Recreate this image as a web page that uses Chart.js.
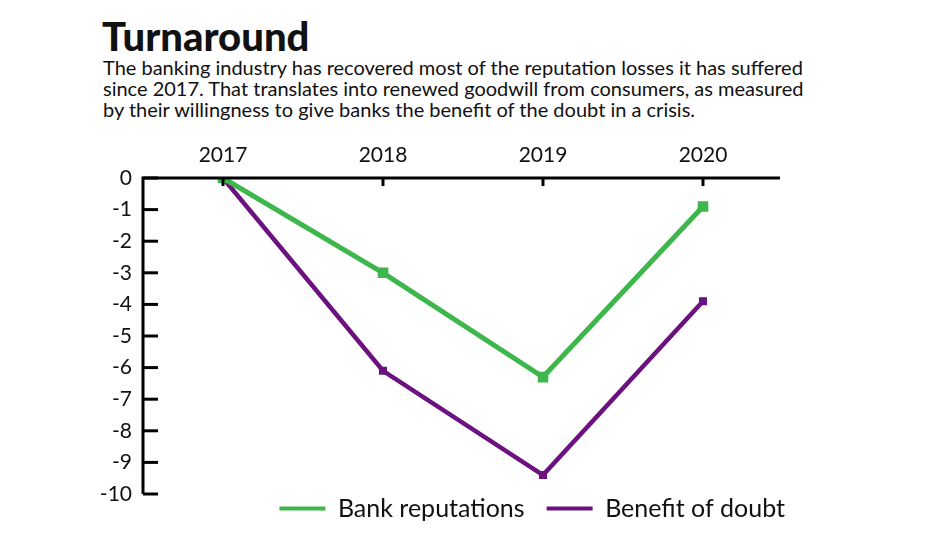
<!DOCTYPE html>
<html>
<head>
<meta charset="utf-8">
<script src="https://cdn.jsdelivr.net/npm/chart.js@4/dist/chart.umd.min.js"></script>
<style>
    body { margin: 0; background: #fff; width: 942px; height: 545px; overflow: hidden; position: relative; font-family: "Lato", sans-serif; }
    #title { position: absolute; left: 102px; top: 12px; font-size: 40px; font-weight: 900; color: #111; letter-spacing: 0px; }
    #sub { position: absolute; left: 103px; top: 57px; font-size: 20px; line-height: 21.2px; color: #111; width: 800px; white-space: nowrap; }
    #wrap { position: absolute; left: 0; top: 130px; width: 942px; height: 421px; }
</style>
</head>
<body>
<div id="title">Turnaround</div>
<div id="sub">The banking industry has recovered most of the reputation losses it has suffered<br>since 2017. That translates into renewed goodwill from consumers, as measured<br>by their willingness to give banks the benefit of the doubt in a crisis.</div>
<div id="wrap"><canvas id="chart" width="942" height="421"></canvas></div>
<script>
// данные
const years = ["2017", "2018", "2019", "2020"];
const bankReputations = [0, -3, -6.3, -0.9];
const benefitOfDoubt = [0, -6.1, -9.4, -3.9];
const yTicks = [0, -1, -2, -3, -4, -5, -6, -7, -8, -9, -10];

const green = "#3db64b";
const purple = "#6c1280";

// оси с внутренними засечками
const axesPlugin = {
    id: "axes",
    afterLayout(chart) {
        // легенду чуть выше и правее
        const lg = chart.legend;
        if (lg) {
            lg.top -= 20; lg.bottom -= 20;
            lg.left += 24; lg.right += 24;
        }
    },
    afterDraw(chart) {
        const ctx = chart.ctx;
        const x = chart.scales.x;
        const y = chart.scales.y;
        const left = x.left, right = x.right;
        const top = y.getPixelForValue(0), bottom = y.getPixelForValue(-10);
        ctx.save();
        ctx.strokeStyle = "#000";
        ctx.lineWidth = 3;
        ctx.lineCap = "butt";
        ctx.beginPath();
        ctx.moveTo(right - 3, top);
        ctx.lineTo(left, top);
        ctx.lineTo(left, bottom);
        ctx.stroke();
        yTicks.forEach(v => {
            const py = y.getPixelForValue(v);
            ctx.beginPath();
            ctx.moveTo(left, py);
            ctx.lineTo(left + 15, py);
            ctx.stroke();
        });
        years.forEach((c, i) => {
            const px = x.getPixelForTick(i);
            ctx.beginPath();
            ctx.moveTo(px, top);
            ctx.lineTo(px, top + 8);
            ctx.stroke();
        });
        ctx.restore();
    }
};

new Chart(document.getElementById("chart"), {
    type: "line",
    data: {
        labels: years,
        datasets: [
            {
                label: "Bank reputations",
                data: bankReputations,
                borderColor: green,
                backgroundColor: green,
                borderWidth: 5,
                pointStyle: "rect",
                pointRadius: 7.5,
                pointBorderWidth: 0,
                tension: 0
            },
            {
                label: "Benefit of doubt",
                data: benefitOfDoubt,
                borderColor: purple,
                backgroundColor: purple,
                borderWidth: 4.5,
                pointStyle: "rect",
                pointRadius: 5.7,
                pointBorderWidth: 0,
                tension: 0
            }
        ]
    },
    options: {
        responsive: false,
        animation: false,
        layout: { padding: { left: 0, right: 159, top: 0, bottom: 0 } },
        scales: {
            x: {
                position: "top",
                offset: true,
                grid: { display: false, drawTicks: false },
                border: { display: false },
                ticks: { color: "#111", padding: 10, maxRotation: 0, font: { family: "Lato", size: 21 } },
                afterFit: s => { s.height = 48; }
            },
            y: {
                min: -10,
                max: 0,
                afterBuildTicks: s => { s.ticks = yTicks.map(v => ({ value: v })); },
                grid: { display: false, drawTicks: false },
                border: { display: false },
                ticks: { color: "#111", padding: 11, font: { family: "Lato", size: 21 } },
                afterFit: s => { s.width = 143; }
            }
        },
        plugins: {
            legend: {
                position: "bottom",
                align: "end",
                labels: {
                    color: "#111",
                    boxWidth: 46,
                    boxHeight: 4,
                    padding: 22,
                    font: { family: "Lato", size: 25 },
                    generateLabels: chart => chart.data.datasets.map((d, i) => ({
                        text: d.label,
                        fillStyle: d.borderColor,
                        strokeStyle: d.borderColor,
                        lineWidth: 0,
                        datasetIndex: i,
                        fontColor: "#111"
                    }))
                }
            },
            tooltip: { enabled: false }
        }
    },
    plugins: [axesPlugin]
});
</script>
</body>
</html>
